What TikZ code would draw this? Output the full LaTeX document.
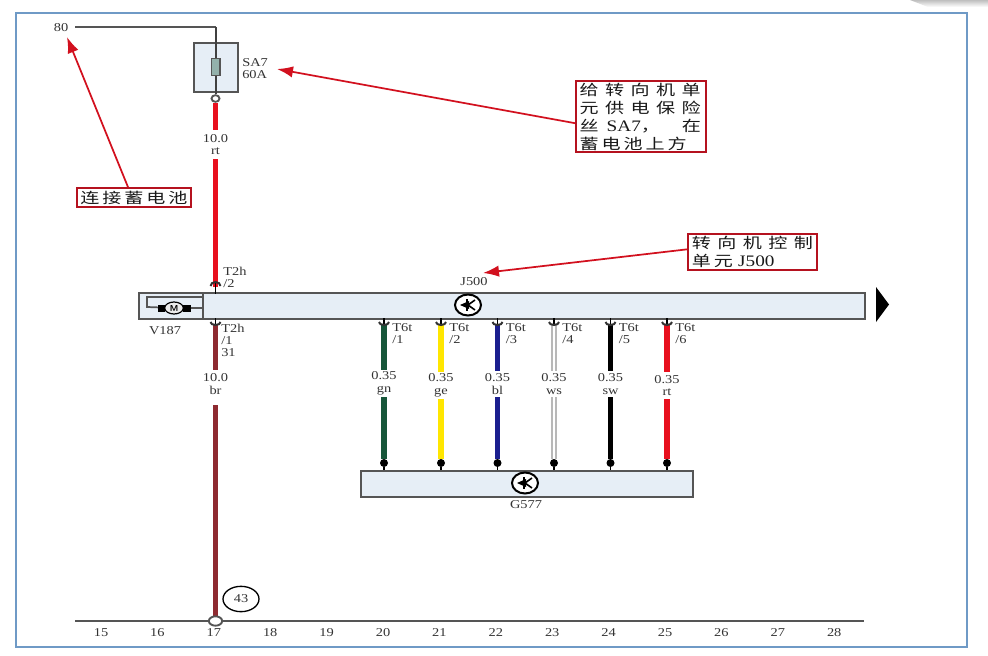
\documentclass[tikz,border=0pt]{standalone}
\usepackage{fontspec}
\usetikzlibrary{arrows.meta,shapes.geometric}
\newfontfamily\labfont[FakeStretch=1.2]{Liberation Serif}
\newfontfamily\cjkwide[FakeStretch=1.3,LetterSpace=44]{Noto Sans CJK SC}
\newfontfamily\cjknarrow[FakeStretch=1.3,LetterSpace=20]{Noto Sans CJK SC}
\newcommand{\latinpart}[1]{{\labfont\fontsize{12}{13.5}\selectfont #1}}
\definecolor{framec}{HTML}{6F9AC6}
\definecolor{boxred}{HTML}{B5121F}
\definecolor{arrowred}{HTML}{D2101E}
\definecolor{panel}{HTML}{E6EEF6}
\definecolor{lineg}{HTML}{555555}
\definecolor{wbr}{HTML}{8E2A30}
\definecolor{wgn}{HTML}{17563A}
\definecolor{wge}{HTML}{FFE600}
\definecolor{wbl}{HTML}{1B1F8F}
\definecolor{wrt}{HTML}{E8101E}
\definecolor{wws}{HTML}{B8B8B8}
\tikzset{
  lab/.style={font=\labfont\fontsize{9}{9}\selectfont,inner sep=0pt,text=black!80},
  tag/.style={lab,align=left,anchor=north west},
  wirelab/.style={lab,align=center,fill=white,minimum width=20pt,minimum height=20pt,
     font=\labfont\fontsize{9}{9.5}\selectfont},
  wire/.style={line width=3.9pt},
  panelbox/.style={draw=lineg,fill=panel,line width=1.5pt,inner sep=0pt},
  callout/.style={draw=boxred,line width=1.6pt,fill=white,inner sep=0pt,text=black!90},
  pointer/.style={draw=arrowred,line width=1.3pt,-{Latex[length=12pt,width=8.5pt]}},
  pics/capdown/.style={code={
    \draw[black,line width=1.3pt] (0,-7) -- (0,1);
    \draw[black!80,line width=1.5pt] (-5,-3) arc[start angle=180,end angle=360,x radius=5,y radius=-3];
  }},
  pics/capup/.style={code={
    \draw[black,line width=1.3pt] (0,-5) -- (0,7);
    \draw[black!80,line width=1.5pt] (-5,-1) arc[start angle=180,end angle=0,x radius=5,y radius=-4];
  }},
  pics/sensor/.style={code={
    \draw[black,line width=1.5pt,fill=white] (0,0) ellipse[x radius=13,y radius=10.5];
    \draw[black,line width=1.2pt] (7,-5) -- (0,0) -- (7,5);
    \fill[black] (-8,0) -- (1,-4) -- (1,4) -- cycle;
    \draw[black,line width=1.2pt] (-1,-6) -- (-1,6);
  }}
}
\begin{document}
\begin{tikzpicture}[x=0.75pt,y=-0.75pt]
\useasboundingbox (0,0) rectangle (988,656);
\fill[white] (0,0) rectangle (988,656);
\shade[top color=black!25,bottom color=white] (910,0) -- (988,0) -- (988,7) -- (928,7) -- cycle;
\draw[framec,line width=1.5pt] (16,13) rectangle (967,647);

% top feed and fuse
\node[lab] (n80) at (61,28) {80};
\node[panelbox,minimum width=33pt,minimum height=37pt] (fusebox) at (215.5,67.5) {};
\coordinate (feedL) at (75,27);
\coordinate (feedR) at (215.5,27);
\node[ellipse,draw=lineg,fill=white,line width=1.4pt,minimum width=6pt,minimum height=5pt,inner sep=0pt] (fuseout) at (215.5,98.5) {};
\draw[lineg,line width=1.7pt] (feedL) -- (feedR);
\draw[black!75,line width=1.5pt] (feedR) -- (fuseout);
\node[draw=lineg,fill=wgn!40!panel,line width=1pt,minimum width=6.5pt,minimum height=13pt,inner sep=0pt] (fuse) at (215.5,67) {};
\node[tag] (sa7) at (242,58) {SA7\\60A};

% main wires
\coordinate (t2top) at (215.5,287);
\coordinate (t2bot) at (215.5,325);
\coordinate (gndpt) at (215.5,621);
\draw[wire,wrt] (fuseout) -- (t2top);
\node[wirelab,minimum height=21.5pt] (lab10a) at (215.5,144.5) {10.0\\rt};
\draw[wire,wbr] (t2bot) -- (gndpt);
\node[fill=white,minimum width=20pt,minimum height=26pt,inner sep=0pt] (gap10b) at (215.5,387.5) {};
\node[lab,align=center,font=\labfont\fontsize{9}{9.5}\selectfont] (lab10b) at (215.5,384) {10.0\\br};

% J500 bar
\node[panelbox,minimum width=544.5pt,minimum height=19.5pt,anchor=north west] (j500) at (138,292) {};
\draw[lineg,line width=1.5pt] (203,292) -- (203,318);
\node[lab] (j500lab) at (474,282) {J500};
\node[lab] (v187) at (165,331) {V187};
\pic at (468,305) {sensor};
\draw[fill=black,draw=none] (876,287) -- (889,304.5) -- (876,322) -- cycle;

% motor
\node[draw=black,line width=0.9pt,fill=white!85!gray,ellipse,inner sep=0pt,
  minimum width=14pt,minimum height=9pt,font=\sffamily\bfseries\fontsize{6.5}{6.5}\selectfont] (motor) at (174,308) {M};
\coordinate (mL) at (147,297);
\coordinate (mR) at (203,297);
\coordinate (mB) at (147,307);
\draw[lineg,line width=1.3pt] (mR) -- (mL) -- (mB) -- (motor);
\draw[lineg,line width=1.3pt] (motor) -- (203,308);
\fill[black] (158,304.5) rectangle (165,312);
\fill[black] (183,304.5) rectangle (191,312);

% contacts on the left
\pic at (215.5,287) {capup};
\pic at (215.5,325) {capdown};
\node[tag] (t2h2) at (223,267) {T2h\\/2};
\node[tag] (t2h1) at (221,324) {T2h\\/1\\31};

% G577
\node[panelbox,minimum width=249.5pt,minimum height=19.5pt,anchor=north west] (g577) at (359.5,470) {};
\pic at (525,483) {sensor};
\node[lab] (g577lab) at (526,505) {G577};

% six signal wires
\foreach \xx/\cc/\nn/\wn/\yy in {384/wgn/1/gn/383.5,441/wge/2/ge/385.5,497.5/wbl/3/bl/384,554/wws/4/ws/384,610.5/black/5/sw/384,667/wrt/6/rt/385.5}{
  \coordinate (wt\nn) at (\xx,325);
  \node[circle,fill=black,minimum size=6pt,inner sep=0pt] (wd\nn) at (\xx,463) {};
  \draw[wire,\cc] (wt\nn) -- (wd\nn);
  \ifnum\nn=4
    \draw[line width=1.6pt,white] (wt\nn) -- (wd\nn);
  \fi
  \draw[black,line width=0.8pt] (wd\nn) -- (\xx,470);
  \pic at (\xx,325) {capdown};
  \node[wirelab] (wl\nn) at (\xx,\yy) {0.35\\\wn};
  \node[tag] (tt\nn) at (\xx+8,323) {T6t\\/\nn};
}

% ground bus
\draw[lineg,line width=1.7pt] (75,621) -- (864,621);
\node[ellipse,draw=lineg,fill=white,line width=1.4pt,inner sep=0pt,minimum width=10pt,minimum height=7pt] (gnd) at (215.5,621) {};
\node[lab,draw=black,line width=1pt,ellipse,minimum width=27pt,minimum height=19pt] (n43) at (241,599) {43};
\foreach \i [evaluate=\i as \px using {101+(\i-15)*56.4}] in {15,...,28}{
  \node[lab] (col\i) at (\px,633) {\i};
}

% callouts
\node[callout,minimum width=86pt,minimum height=14pt,font=\cjknarrow\fontsize{11}{13.5}\selectfont] (boxA) at (134,197.5) {连接蓄电池};
\node[callout,minimum width=97.5pt,minimum height=53pt,align=left,text width=92pt,font=\cjkwide\fontsize{11}{13.5}\selectfont] (boxB) at (641,116.5)
  {给转向机单\\元供电保险\\\makebox[91pt][s]{丝\hspace{6pt}\latinpart{SA7}，\hfill 在}\\{\cjknarrow 蓄电池上方}};
\node[callout,minimum width=96.5pt,minimum height=27pt,align=left,text width=91pt,font=\cjkwide\fontsize{11}{13.5}\selectfont] (boxC) at (752.5,252)
  {转向机控制\\{\cjknarrow 单元}\hspace{4pt}\latinpart{J500}};

\coordinate (tipA) at (67,37);
\coordinate (tipB) at (277,69);
\coordinate (tipC) at (483,273);
\draw[pointer] ([xshift=-4.5pt]boxA.north) -- (tipA);
\draw[pointer] ([yshift=-5pt]boxB.west) -- (tipB);
\draw[pointer] ([yshift=2pt]boxC.west) -- (tipC);
\end{tikzpicture}
\end{document}
